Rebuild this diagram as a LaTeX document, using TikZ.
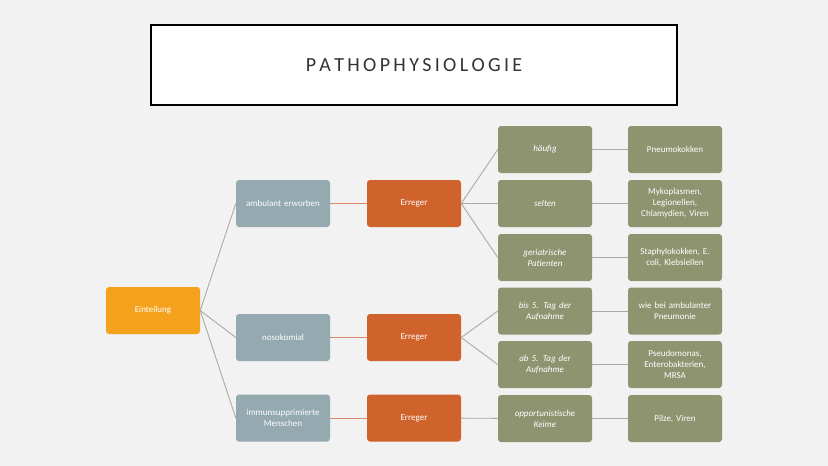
\documentclass[tikz,border=0pt]{standalone}
\usepackage{fontspec}
\setmainfont{Carlito}
\definecolor{bgc}{RGB}{242,242,242}
\definecolor{orc}{RGB}{244,161,29}
\definecolor{blc}{RGB}{148,169,176}
\definecolor{brc}{RGB}{208,98,44}
\definecolor{olc}{RGB}{143,148,112}
\definecolor{lnc}{RGB}{170,170,165}
\definecolor{olnc}{RGB}{217,139,107}
\begin{document}
\begin{tikzpicture}[x=1pt,y=-1pt,
 box/.style={rounded corners=3pt,minimum width=94pt,minimum height=47pt,text width=88pt,align=center,text=white,font=\fontsize{9}{11}\selectfont,inner sep=2pt},
 orangebox/.style={box,fill=orc},
 bluebox/.style={box,fill=blc},
 brownbox/.style={box,fill=brc},
 olivebox/.style={box,fill=olc},
 itbox/.style={olivebox,font=\fontsize{9}{11}\selectfont\itshape},
 link/.style={draw=lnc,line width=0.9pt},
 olink/.style={draw=olnc,line width=0.9pt}]
\fill[bgc] (0,0) rectangle (828,466);
\useasboundingbox (0,0) rectangle (828,466);
\node[draw=black,line width=1.2pt,fill=white,minimum width=526pt,minimum height=80pt,font=\fontsize{20}{24}\selectfont,text=black!80] (title) at (414,65) {P\,A\,T\,H\,O\,P\,H\,Y\,S\,I\,O\,L\,O\,G\,I\,E};
\node[orangebox] (e) at (153,310.5) {Einteilung};
\node[bluebox] (a) at (283,203.5) {ambulant erworben};
\node[bluebox] (n) at (283,337.5) {nosokomial};
\node[bluebox] (i) at (283,418) {immunsupprimierte\\Menschen};
\node[brownbox] (ea) at (414,203.5) {Erreger};
\node[brownbox] (en) at (414,337.5) {Erreger};
\node[brownbox] (ei) at (414,418) {Erreger};
\node[itbox] (h) at (545,149.5) {häufig};
\node[itbox] (s) at (545,203.5) {selten};
\node[itbox] (g) at (545,257.5) {geriatrische\\Patienten};
\node[itbox] (b) at (545,311) {bis 5. Tag der\\Aufnahme};
\node[itbox] (ab) at (545,364.5) {ab 5. Tag der\\Aufnahme};
\node[itbox] (o) at (545,418.5) {opportunistische\\Keime};
\node[olivebox] (p1) at (675,149.5) {Pneumokokken};
\node[olivebox] (p2) at (675,203.5) {Mykoplasmen,\\Legionellen,\\Chlamydien, Viren};
\node[olivebox] (p3) at (675,257.5) {Staphylokokken, E.\\coli, Klebsiellen};
\node[olivebox] (p4) at (675,311) {wie bei ambulanter\\Pneumonie};
\node[olivebox] (p5) at (675,364.5) {Pseudomonas,\\Enterobakterien,\\MRSA};
\node[olivebox] (p6) at (675,418.5) {Pilze, Viren};
\foreach \t in {a,n,i} \draw[link] (e.east) -- (\t.west);
\draw[olink] (a) -- (ea); \draw[olink] (n) -- (en); \draw[olink] (i) -- (ei);
\foreach \t in {h,s,g} \draw[link] (ea.east) -- (\t.west);
\foreach \t in {b,ab} \draw[link] (en.east) -- (\t.west);
\draw[link] (ei) -- (o);
\draw[link] (h) -- (p1); \draw[link] (s) -- (p2); \draw[link] (g) -- (p3);
\draw[link] (b) -- (p4); \draw[link] (ab) -- (p5); \draw[link] (o) -- (p6);
\end{tikzpicture}
\end{document}
